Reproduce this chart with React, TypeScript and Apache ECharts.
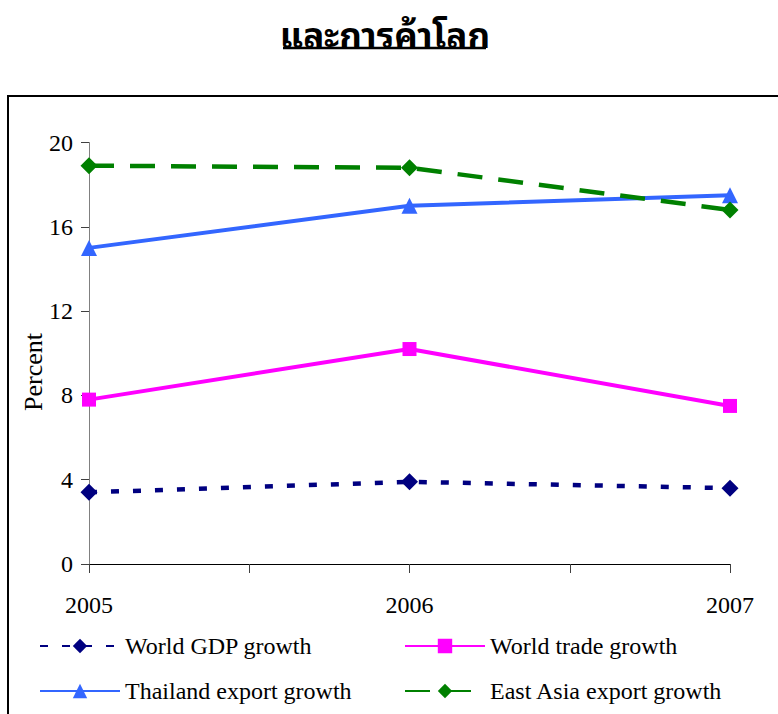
import React, { useEffect, useRef } from "react";
import * as echarts from "echarts";

const years = [2005, 2006, 2007];
const worldGdp = [3.4, 3.9, 3.6];
const worldTrade = [7.8, 10.2, 7.5];
const thaiExport = [15.0, 17.0, 17.5];
const eastAsiaExport = [18.9, 18.8, 16.8];
const seriesNames = [
  "World GDP growth",
  "World trade growth",
  "Thailand export growth",
  "East Asia export growth",
];
const titleText = "และการค้าโลก";
const yAxisName = "Percent";

const SERIF = "'Liberation Serif', 'Times New Roman', serif";

export default function App() {
  const ref = useRef<HTMLDivElement>(null);
  useEffect(() => {
    if (!ref.current) return;
    const chart = echarts.init(ref.current, undefined, { renderer: "svg" });
    const pts = (vals: number[]) => years.map((y, i) => [y, vals[i]]);
    const legendText = { fontFamily: SERIF, fontSize: 24, color: "#000" };
    const mkLegend = (name: string, left: number, top: number) => ({
      data: [name],
      left,
      top,
      itemWidth: 80,
      itemHeight: 18,
      itemGap: 0,
      textStyle: legendText,
      selectedMode: false,
    });
    chart.setOption({
      animation: false,
      backgroundColor: "#fff",
      graphic: [
        {
          type: "rect",
          shape: { x: 8, y: 96, width: 820, height: 700 },
          style: { fill: "none", stroke: "#000", lineWidth: 2 },
          silent: true,
        },
        {
          type: "text",
          x: 385,
          y: 32,
          style: {
            text: titleText,
            fontSize: 35,
            fontWeight: "bold",
            fontFamily: "'Noto Sans Thai Looped', 'Noto Sans Thai', 'Noto Serif Thai', 'Loma', 'Garuda', sans-serif",
            fill: "#000",
            align: "center",
            verticalAlign: "middle",
          },
        },
        {
          type: "line",
          shape: { x1: 283, y1: 48, x2: 486, y2: 48 },
          style: { stroke: "#000", lineWidth: 2.5 },
        },
        {
          type: "text",
          x: 33,
          y: 372,
          rotation: Math.PI / 2,
          style: {
            text: yAxisName,
            fontSize: 26,
            fontFamily: SERIF,
            fill: "#000",
            align: "center",
            verticalAlign: "middle",
          },
        },
      ],
      legend: [
        mkLegend(seriesNames[0], 34, 629),
        mkLegend(seriesNames[1], 399, 629),
        mkLegend(seriesNames[2], 34, 674),
        mkLegend(seriesNames[3], 399, 674),
      ],
      grid: { left: 89, right: 48, top: 142.5, bottom: 150, containLabel: false },
      xAxis: {
        type: "value",
        min: 2005,
        max: 2007,
        interval: 0.5,
        splitLine: { show: false },
        axisLine: { lineStyle: { color: "#000", width: 1 } },
        axisTick: { show: true, length: 9, lineStyle: { color: "#404040" } },
        axisLabel: {
          margin: 29,
          fontFamily: SERIF,
          fontSize: 24,
          color: "#000",
          formatter: (v: number) => (Number.isInteger(v) ? String(v) : ""),
        },
      },
      yAxis: {
        type: "value",
        min: 0,
        max: 20,
        interval: 4,
        splitLine: { show: false },
        axisLine: { show: true, lineStyle: { color: "#808080", width: 1 } },
        axisTick: { show: true, length: 8, lineStyle: { color: "#404040" } },
        axisLabel: { margin: 16, fontFamily: SERIF, fontSize: 24, color: "#000" },
      },
      series: [
        {
          name: seriesNames[0],
          type: "line",
          data: pts(worldGdp),
          symbol: "diamond",
          symbolSize: 17,
          color: "#000080",
          lineStyle: { width: 4.5, type: [8, 14] },
          z: 2,
        },
        {
          name: seriesNames[1],
          type: "line",
          data: pts(worldTrade),
          symbol: "rect",
          symbolSize: 14,
          color: "#FF00FF",
          lineStyle: { width: 4, type: "solid" },
          z: 3,
        },
        {
          name: seriesNames[2],
          type: "line",
          data: pts(thaiExport),
          symbol: "triangle",
          symbolSize: 16,
          color: "#3366FF",
          lineStyle: { width: 4, type: "solid" },
          z: 4,
        },
        {
          name: seriesNames[3],
          type: "line",
          data: pts(eastAsiaExport),
          symbol: "diamond",
          symbolSize: 17,
          color: "#008000",
          lineStyle: { width: 4.5, type: [25, 16] },
          z: 5,
        },
      ],
    });
    return () => chart.dispose();
  }, []);
  return (
    <div
      ref={ref}
      style={{ position: "fixed", left: 0, top: 0, width: 778, height: 714 }}
    />
  );
}
